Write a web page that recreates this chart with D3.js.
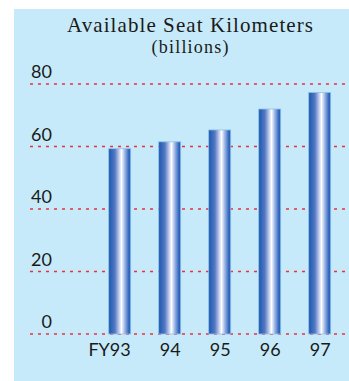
<!DOCTYPE html>
<html>
<head>
<meta charset="utf-8">
<script src="https://cdn.jsdelivr.net/npm/d3@7"></script>
<style>
  body { margin: 0; background: #fff; }
  svg { display: block; }
</style>
</head>
<body>
<div id="chart"></div>
<script>
// data
const years = ["FY93", "94", "95", "96", "97"];
const seatKm = [59.3, 61.5, 65.3, 72.0, 77.3];
const yTicks = [0, 20, 40, 60, 80];

const width = 349;
const height = 381;
const margin = {left: 30, right: 4, top: 84, bottom: 47};

const svg = d3.select("#chart")
  .append("svg")
  .attr("width", width)
  .attr("height", height);

// bar gradient
const defs = svg.append("defs");
const grad = defs.append("linearGradient")
  .attr("id", "barGrad")
  .attr("x1", "0%").attr("x2", "100%")
  .attr("y1", "0%").attr("y2", "0%");
[["0%", "#1a58ae"], ["28%", "#5478c4"], ["48%", "#c4cfee"], ["58%", "#ffffff"],
 ["72%", "#a4bbe6"], ["90%", "#3a6cc2"], ["100%", "#1958b2"]]
  .forEach(s => grad.append("stop").attr("offset", s[0]).attr("stop-color", s[1]));

// background panel
svg.append("rect")
  .attr("x", 14).attr("y", 9)
  .attr("width", width - 14).attr("height", height - 9)
  .attr("fill", "#c6eaf9");

// title
svg.append("text")
  .attr("x", 190).attr("y", 32)
  .attr("text-anchor", "middle")
  .attr("font-family", "Liberation Serif")
  .attr("font-size", "21px")
  .attr("textLength", 246)
  .attr("lengthAdjust", "spacing")
  .attr("fill", "#1a1a1a")
  .text("Available Seat Kilometers");

svg.append("text")
  .attr("x", 190).attr("y", 53)
  .attr("text-anchor", "middle")
  .attr("font-family", "Liberation Serif")
  .attr("font-size", "18px")
  .attr("textLength", 77)
  .attr("lengthAdjust", "spacing")
  .attr("fill", "#1a1a1a")
  .text("(billions)");

// scales
const yScale = d3.scaleLinear()
  .domain([0, 80])
  .range([height - margin.bottom, margin.top]);

const xScale = d3.scaleBand()
  .domain(years)
  .range([94.7, 344.7])
  .paddingInner(0.56)
  .paddingOuter(0.28);

// dotted gridlines
svg.selectAll(".grid")
  .data(yTicks)
  .enter()
  .append("line")
    .attr("class", "grid")
    .attr("x1", margin.left)
    .attr("x2", width - margin.right)
    .attr("y1", d => yScale(d))
    .attr("y2", d => yScale(d))
    .attr("stroke", "#e8333f")
    .attr("stroke-width", 1.3)
    .attr("stroke-dasharray", "3,5");

// y labels
svg.selectAll(".ylab")
  .data(yTicks)
  .enter()
  .append("text")
    .attr("class", "ylab")
    .attr("x", 52)
    .attr("y", d => yScale(d) - 6)
    .attr("text-anchor", "end")
    .attr("font-family", "Lato")
    .attr("font-size", "18px")
    .attr("fill", "#1a1a1a")
    .text(d => d);

// bars
svg.selectAll(".bar")
  .data(seatKm)
  .enter()
  .append("rect")
    .attr("class", "bar")
    .attr("x", (d, i) => xScale(years[i]))
    .attr("y", d => yScale(d))
    .attr("width", xScale.bandwidth())
    .attr("height", d => yScale(0) - yScale(d))
    .attr("fill", "url(#barGrad)")
    .attr("stroke", "#8ec3ea")
    .attr("stroke-width", 0.8);

// x labels: the number part is centred under the bar
svg.selectAll(".xlab")
  .data(years)
  .enter()
  .append("text")
    .attr("class", "xlab")
    .attr("x", d => xScale(d) + xScale.bandwidth() / 2 + 11)
    .attr("y", 356)
    .attr("text-anchor", "end")
    .attr("font-family", "Lato")
    .attr("font-size", "18px")
    .attr("fill", "#1a1a1a")
    .text(d => d);
</script>
</body>
</html>
